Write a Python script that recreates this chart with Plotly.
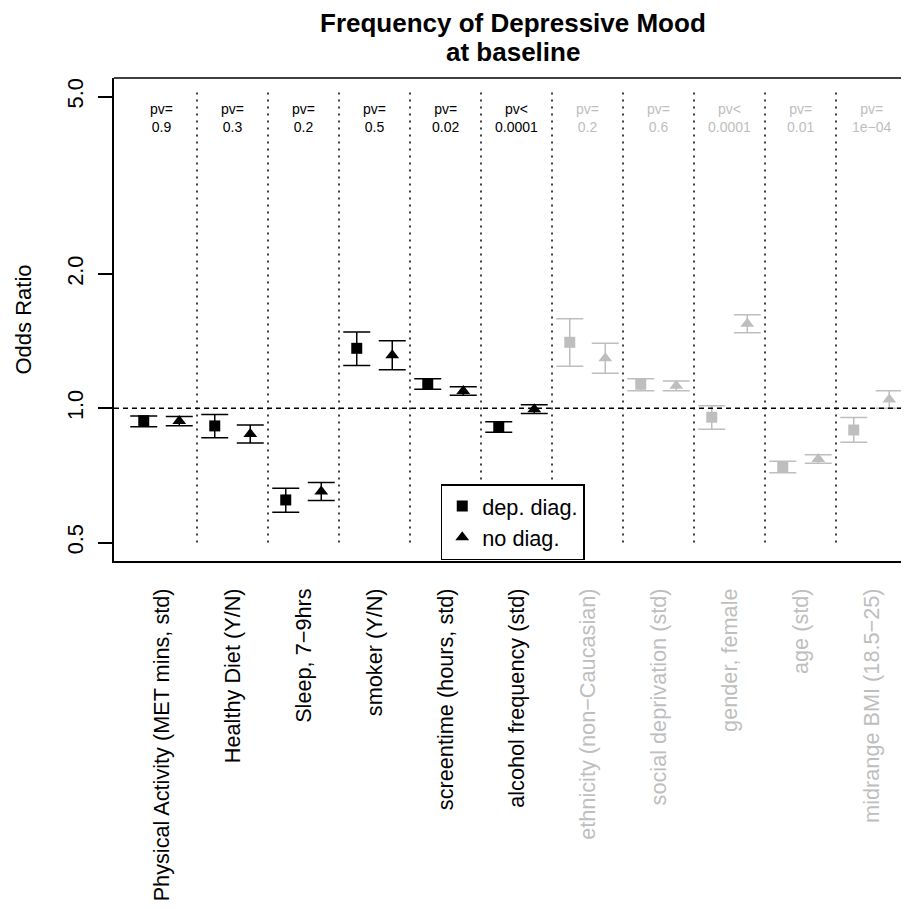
import numpy as np
import plotly.graph_objects as go

# ---------------- data ----------------
categories = [
    "Physical Activity (MET mins, std)",
    "Healthy Diet (Y/N)",
    "Sleep, 7\u22129hrs",
    "smoker (Y/N)",
    "screentime (hours, std)",
    "alcohol frequency (std)",
    "ethnicity (non\u2212Caucasian)",
    "social deprivation (std)",
    "gender, female",
    "age (std)",
    "midrange BMI (18.5\u221225)",
]
pv_prefix = ["pv=", "pv=", "pv=", "pv=", "pv=", "pv<", "pv=", "pv=", "pv<", "pv=", "pv="]
pv_value = ["0.9", "0.3", "0.2", "0.5", "0.02", "0.0001", "0.2", "0.6", "0.0001", "0.01", "1e\u221204"]

dep_or = [0.938, 0.913, 0.623, 1.363, 1.134, 0.909, 1.406, 1.132, 0.955, 0.739, 0.894]
dep_lo = [0.909, 0.859, 0.585, 1.248, 1.103, 0.884, 1.242, 1.095, 0.897, 0.717, 0.839]
dep_hi = [0.961, 0.968, 0.662, 1.483, 1.165, 0.933, 1.588, 1.165, 1.013, 0.761, 0.953]

nod_or = [0.936, 0.876, 0.651, 1.315, 1.093, 0.995, 1.295, 1.123, 1.548, 0.770, 1.046]
nod_lo = [0.914, 0.836, 0.621, 1.220, 1.069, 0.973, 1.198, 1.095, 1.477, 0.753, 1.000]
nod_hi = [0.958, 0.917, 0.682, 1.418, 1.118, 1.019, 1.399, 1.151, 1.621, 0.787, 1.095]

y_ticks = [0.5, 1.0, 2.0, 5.0]
y_ticktext = ["0.5", "1.0", "2.0", "5.0"]

n_main = 6  # first six are lifestyle factors (black); rest are covariates (grey)

# ---------------- styles ----------------
BLACK = "black"
GREY = "#BEBEBE"
FONT = "Liberation Sans, Arial, Helvetica, sans-serif"
n = len(categories)
pos = np.arange(1, n + 1)
offset = 0.25

fig = go.Figure()


def add_series(xs, ys, lo, hi, symbol, size, color, name):
    ys = np.array(ys)
    lo = np.array(lo)
    hi = np.array(hi)
    fig.add_trace(go.Scatter(
        x=xs, y=ys, mode="markers", name=name, showlegend=False,
        marker=dict(symbol=symbol, size=size, color=color, line=dict(width=0)),
        error_y=dict(type="data", symmetric=False, array=hi - ys, arrayminus=ys - lo,
                     color=color, thickness=1.5, width=13.5),
        hoverinfo="x+y",
    ))


groups = [(slice(0, n_main), BLACK), (slice(n_main, n), GREY)]
for sl, col in groups:
    add_series(pos[sl] - offset, dep_or[sl], dep_lo[sl], dep_hi[sl], "square", 11, col, "dep. diag.")
    add_series(pos[sl] + offset, nod_or[sl], nod_lo[sl], nod_hi[sl], "triangle-up", 12, col, "no diag.")

# separators (dotted vertical lines)
sep_x, sep_y = [], []
for p in pos:
    sep_x += [p + 0.5, p + 0.5, None]
    sep_y += [0.5, 5.2, None]
fig.add_trace(go.Scatter(x=sep_x, y=sep_y, mode="lines", showlegend=False, hoverinfo="skip",
                         line=dict(color=BLACK, width=1.5, dash="2px,5px")))

xrange = [0.331, 11.528]
# reference line at OR = 1
fig.add_trace(go.Scatter(x=xrange, y=[1.0, 1.0], mode="lines", showlegend=False, hoverinfo="skip",
                         line=dict(color=BLACK, width=1.4, dash="5px,4px")))

# legend-only entries
fig.add_trace(go.Scatter(x=[None], y=[None], mode="markers", name="dep. diag.",
                         marker=dict(symbol="square", size=11, color=BLACK)))
fig.add_trace(go.Scatter(x=[None], y=[None], mode="markers", name="no diag.",
                         marker=dict(symbol="triangle-up", size=12, color=BLACK)))

# p-value annotations
for i in range(n):
    col = BLACK if i < n_main else GREY
    pre = pv_prefix[i].replace("<", "&lt;")
    fig.add_annotation(x=pos[i], xref="x", y=0.9172, yref="paper",
                       text=pre + "<br>" + pv_value[i], showarrow=False,
                       font=dict(size=14, color=col, family=FONT),
                       xanchor="center", yanchor="middle", align="center")

# tick labels with colours
ticktext = []
for i, c in enumerate(categories):
    col = BLACK if i < n_main else GREY
    ticktext.append('<span style="color:%s">%s</span>' % (col, c))

# titles (pixel rows in the page converted to paper coordinates of the plot area)
plot_top, plot_bot = 78, 561
title_lines = ["Frequency of Depressive Mood", "at baseline"]
title_rows = [23, 52]
for txt, row in zip(title_lines, title_rows):
    fig.add_annotation(x=0.5025, xref="paper", y=(plot_bot - row) / (plot_bot - plot_top),
                       yref="paper", yanchor="middle",
                       text="<b>%s</b>" % txt, showarrow=False,
                       font=dict(size=26, color=BLACK, family=FONT))

fig.add_annotation(x=(22.5 - 114) / 795, xref="paper", y=(561 - 320) / 483, yref="paper",
                   text="Odds Ratio", textangle=-90, showarrow=False,
                   font=dict(size=22, color=BLACK, family=FONT), xanchor="center", yanchor="middle")

# top frame line
fig.add_shape(type="line", xref="paper", yref="paper", x0=0, x1=1, y0=1, y1=1,
              line=dict(color=BLACK, width=1.5))

# the page body adds an 8px margin; compensate so the plot area sits where the reference has it
fig.update_layout(
    width=909, height=909,
    margin=dict(l=106, r=8, t=70, b=356, pad=0),
    paper_bgcolor="white", plot_bgcolor="white",
    font=dict(family=FONT, size=22, color=BLACK),
    showlegend=True,
    legend=dict(x=0.411, y=0.1594, xanchor="left", yanchor="top",
                bordercolor=BLACK, borderwidth=1.5, bgcolor="white",
                font=dict(size=21.7, family=FONT, color=BLACK), tracegroupgap=0),
    xaxis=dict(range=xrange, showgrid=False, zeroline=False, showline=True,
               linecolor=BLACK, linewidth=1.5, ticks="", tickvals=list(pos),
               ticktext=ticktext, tickangle=-90, tickfont=dict(size=21.7, family=FONT),
               automargin=False, ticklabelstandoff=17),
    yaxis=dict(type="log", range=[-0.3424, 0.7406], showgrid=False, zeroline=False,
               showline=True, linecolor=BLACK, linewidth=1.5, ticks="outside",
               ticklen=14, tickwidth=1.5, tickcolor=BLACK, tickvals=y_ticks,
               ticktext=y_ticktext, tickangle=-90, tickfont=dict(size=21.7, family=FONT),
               automargin=False, ticklabelstandoff=7),
)

fig.write_html("out.html")
